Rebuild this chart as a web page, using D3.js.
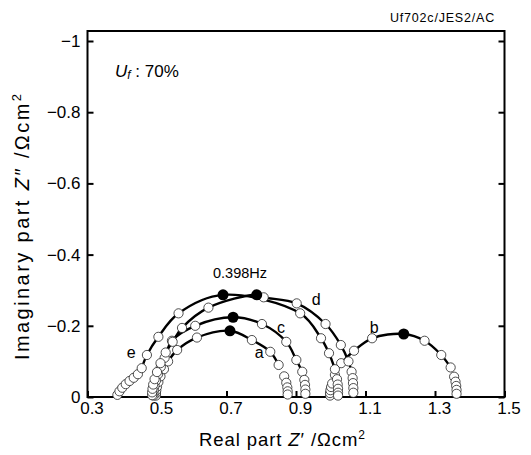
<!DOCTYPE html>
<html>
<head>
<meta charset="utf-8">
<script src="https://cdn.jsdelivr.net/npm/d3@7"></script>
<style>
  body { margin: 0; background: #fff; }
  text { font-family: "Liberation Sans", Arial, sans-serif; fill: #000; }
</style>
</head>
<body>
<div id="chart"></div>
<script>
// Nyquist plots at Uf 70%, Z' and Z'' in ohm cm2 (Z'' negative, drawn upward)
// points run from high frequency (left) to low frequency (right)
var aRe = [0.497, 0.497, 0.498, 0.500, 0.504, 0.510, 0.520, 0.532, 0.558, 0.615, 0.710, 0.773, 0.826, 0.850, 0.866, 0.872, 0.875, 0.876, 0.876]
var aIm = [-0.004, -0.011, -0.019, -0.029, -0.042, -0.058, -0.078, -0.100, -0.132, -0.167, -0.186, -0.160, -0.127, -0.090, -0.058, -0.040, -0.027, -0.016, -0.007]

var bRe = [0.998, 0.998, 0.999, 1.001, 1.004, 1.012, 1.030, 1.067, 1.119, 1.210, 1.270, 1.318, 1.345, 1.355, 1.359, 1.361, 1.362, 1.362]
var bIm = [-0.004, -0.011, -0.019, -0.028, -0.038, -0.062, -0.095, -0.130, -0.165, -0.177, -0.158, -0.118, -0.083, -0.057, -0.043, -0.031, -0.020, -0.009]

var cRe = [0.490, 0.490, 0.491, 0.493, 0.497, 0.503, 0.511, 0.522, 0.543, 0.610, 0.719, 0.802, 0.872, 0.901, 0.918, 0.924, 0.926, 0.927, 0.927]
var cIm = [-0.004, -0.012, -0.021, -0.032, -0.046, -0.064, -0.085, -0.110, -0.158, -0.200, -0.224, -0.205, -0.155, -0.104, -0.071, -0.048, -0.034, -0.021, -0.009]

var dRe = [0.486, 0.486, 0.487, 0.489, 0.493, 0.500, 0.510, 0.525, 0.545, 0.572, 0.648, 0.787, 0.807, 0.902, 0.985, 1.029, 1.051, 1.060, 1.063, 1.064, 1.065, 1.065]
var dIm = [-0.005, -0.013, -0.023, -0.035, -0.050, -0.070, -0.095, -0.125, -0.155, -0.194, -0.251, -0.287, -0.280, -0.263, -0.205, -0.146, -0.100, -0.071, -0.053, -0.039, -0.025, -0.012]

var eRe = [0.386, 0.392, 0.400, 0.410, 0.421, 0.433, 0.445, 0.456, 0.471, 0.504, 0.562, 0.690, 0.912, 0.972, 0.995, 1.012, 1.018, 1.020, 1.021, 1.021, 1.021]
var eIm = [-0.006, -0.016, -0.026, -0.036, -0.045, -0.054, -0.064, -0.081, -0.118, -0.169, -0.235, -0.287, -0.235, -0.165, -0.123, -0.078, -0.050, -0.035, -0.023, -0.012, -0.004]

// index of the 0.398 Hz point in each series
var peakIndex = {a: 10, b: 9, c: 10, d: 11, e: 11}

var curveNames = ["a", "b", "c", "d", "e"]
var curveRe = {a: aRe, b: bRe, c: cRe, d: dRe, e: eRe}
var curveIm = {a: aIm, b: bIm, c: cIm, d: dIm, e: eIm}

// where the letter of each curve sits (data units)
var labelRe = {a: 0.794, b: 1.125, c: 0.857, d: 0.958, e: 0.426}
var labelIm = {a: -0.126, b: -0.196, c: -0.196, d: -0.275, e: -0.126}

var xTicks = [0.3, 0.5, 0.7, 0.9, 1.1, 1.3, 1.5]
var yTicks = [0, -0.2, -0.4, -0.6, -0.8, -1]

var W = 531, H = 455
var plotL = 87.5, plotR = 504.5, plotT = 31, plotB = 397

var x = d3.scaleLinear().domain([0.3, 1.5]).range([plotL, plotR])
var y = d3.scaleLinear().domain([0, -1]).range([plotB, 41])

var svg = d3.select("#chart").append("svg")
  .attr("width", W)
  .attr("height", H)

// axes (ticks point inward)
svg.append("g")
  .attr("class", "xaxis")
  .attr("transform", "translate(0," + plotB + ")")
  .call(d3.axisBottom(x).tickValues(xTicks).tickFormat(d3.format(".1f"))
    .tickSizeInner(-6).tickSizeOuter(0).tickPadding(5))
svg.append("g")
  .attr("transform", "translate(" + plotL + ",0)")
  .call(d3.axisLeft(y).tickValues(yTicks).tickFormat(d3.format("~g"))
    .tickSizeInner(-6).tickSizeOuter(0).tickPadding(7))
svg.append("g")
  .attr("transform", "translate(" + plotR + ",0)")
  .call(d3.axisRight(y).tickValues(yTicks).tickFormat("")
    .tickSizeInner(-6).tickSizeOuter(0))

svg.selectAll(".domain").remove()
svg.selectAll(".tick line").attr("stroke", "#000").attr("stroke-width", 2)
svg.selectAll(".tick text")
  .style("font-size", "17px")
  .style("font-family", "'Liberation Sans', Arial, sans-serif")
  .attr("fill", "#000")
// x labels sit a little to the right of their ticks in the original
svg.selectAll(".xaxis .tick text").attr("dx", 4)

// frame
svg.append("rect")
  .attr("x", plotL).attr("y", plotT)
  .attr("width", plotR - plotL).attr("height", plotB - plotT)
  .attr("fill", "none")
  .attr("stroke", "#000")
  .attr("stroke-width", 2)

// fitted lines
var line = d3.line()
  .x(function(d) { return x(d[0]) })
  .y(function(d) { return y(d[1]) })
  .curve(d3.curveCatmullRom.alpha(0.5))

curveNames.forEach(function(n) {
  var pts = curveRe[n].map(function(v, i) { return [v, curveIm[n][i]] })
    .filter(function(p) { return p[1] <= -0.07 })
  svg.append("path")
    .datum(pts)
    .attr("d", line)
    .attr("fill", "none")
    .attr("stroke", "#000")
    .attr("stroke-width", 2.4)
})

// open circles
curveNames.forEach(function(n) {
  var pts = curveRe[n].map(function(v, i) { return [v, curveIm[n][i], i] })
  svg.append("g").selectAll("circle")
    .data(pts.filter(function(p) { return p[2] != peakIndex[n] }))
    .enter()
    .append("circle")
    .attr("cx", function(d) { return x(d[0]) })
    .attr("cy", function(d) { return y(d[1]) })
    .attr("r", 4.6)
    .attr("fill", "#fff")
    .attr("stroke", "#222")
    .attr("stroke-width", 0.8)
})

// filled circles at 0.398 Hz
svg.append("g").selectAll("circle")
  .data(curveNames)
  .enter()
  .append("circle")
  .attr("cx", function(n) { return x(curveRe[n][peakIndex[n]]) })
  .attr("cy", function(n) { return y(curveIm[n][peakIndex[n]]) })
  .attr("r", 5.5)
  .attr("fill", "#000")

// curve letters
svg.append("g").selectAll("text")
  .data(curveNames)
  .enter()
  .append("text")
  .attr("x", function(n) { return x(labelRe[n]) })
  .attr("y", function(n) { return y(labelIm[n]) })
  .attr("dy", "0.35em")
  .attr("text-anchor", "middle")
  .style("font-size", "16px")
  .text(function(n) { return n })

svg.append("text")
  .attr("x", 240).attr("y", 278)
  .attr("text-anchor", "middle")
  .style("font-size", "14.5px")
  .text("0.398Hz")

// Uf : 70%
var uf = svg.append("text")
  .attr("x", 115).attr("y", 77)
  .style("font-size", "17px")
uf.append("tspan").style("font-style", "italic").text("U")
uf.append("tspan").style("font-style", "italic").style("font-size", "12px").attr("dy", 2).text("f")
uf.append("tspan").attr("dy", -2).text(" : 70%")

// file tag
svg.append("text")
  .attr("x", 495).attr("y", 22)
  .attr("text-anchor", "end")
  .style("font-size", "12.5px")
  .style("letter-spacing", "0.8px")
  .text("Uf702c/JES2/AC")

// axis titles
var xt = svg.append("text")
  .attr("x", 282).attr("y", 446)
  .attr("text-anchor", "middle")
  .attr("textLength", 166)
  .attr("lengthAdjust", "spacing")
  .style("font-size", "18.5px")
xt.append("tspan").text("Real part ")
xt.append("tspan").style("font-style", "italic").text("Z")
xt.append("tspan").text("\u2032 /\u03A9cm")
xt.append("tspan").attr("dy", -7).style("font-size", "12px").text("2")

var yt = svg.append("text")
  .attr("transform", "translate(29,227) rotate(-90)")
  .attr("text-anchor", "middle")
  .attr("textLength", 266)
  .attr("lengthAdjust", "spacing")
  .style("font-size", "20px")
yt.append("tspan").text("Imaginary part ")
yt.append("tspan").style("font-style", "italic").text("Z")
yt.append("tspan").text("\u2033  /\u03A9cm")
yt.append("tspan").attr("dy", -8).style("font-size", "13px").text("2")
</script>
</body>
</html>
